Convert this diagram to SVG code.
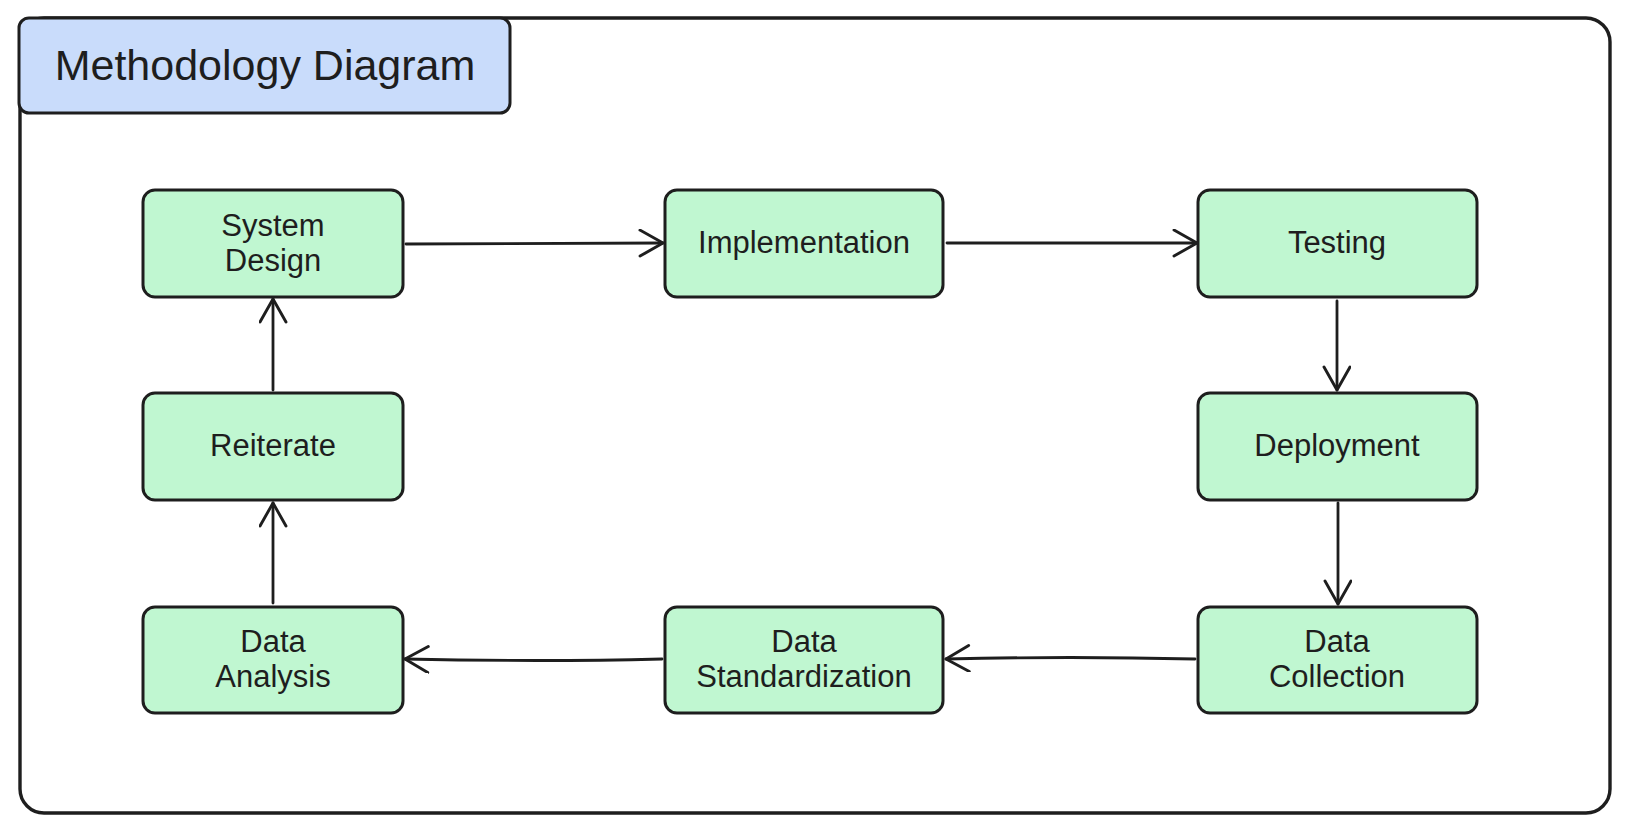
<svg xmlns="http://www.w3.org/2000/svg" width="1632" height="832" viewBox="0 0 1632 832">
<defs>
<style>
.box{fill:#c0f7d1;stroke:#1e1e1e;stroke-width:3;}
.lbl{font-family:"Liberation Sans",Arial,Helvetica,sans-serif;font-size:31px;fill:#1e1e1e;text-anchor:middle;}
.conn{fill:none;stroke:#1e1e1e;stroke-width:2.8;stroke-linecap:round;marker-end:url(#arr);}
</style>
<marker id="arr" markerUnits="userSpaceOnUse" markerWidth="32" markerHeight="32" viewBox="0 0 32 32" refX="25" refY="14" orient="auto">
<path d="M2,1 L25,14 L2,27" fill="none" stroke="#1e1e1e" stroke-width="2.9" stroke-linecap="round" stroke-linejoin="round"/>
</marker>
</defs>
<rect width="1632" height="832" fill="#ffffff"/>
<g id="frame">
<rect x="20" y="18" width="1590" height="795" rx="24" ry="24" fill="#ffffff" stroke="#1e1e1e" stroke-width="3.4"/>
</g>
<g id="title">
<rect x="19" y="18" width="491" height="95" rx="10" ry="10" fill="#c9dcfb" stroke="#1e1e1e" stroke-width="3"/>
<text x="265" y="80" font-family="'Liberation Sans',Arial,Helvetica,sans-serif" font-size="43" fill="#1e1e1e" text-anchor="middle">Methodology Diagram</text>
</g>
<g id="connectors">
<path class="conn" d="M406,244 L663,243"/>
<path class="conn" d="M947,243 L1197,243"/>
<path class="conn" d="M1337,301 L1337,390"/>
<path class="conn" d="M1338,503 L1338,604"/>
<path class="conn" d="M1195,659 Q1070,656 946,659"/>
<path class="conn" d="M662,659 Q540,662 405,659"/>
<path class="conn" d="M273,603 L273,503"/>
<path class="conn" d="M273,390 L273,299"/>
</g>
<g id="system-design">
<rect class="box" x="143" y="190" width="260" height="107" rx="12" ry="12"/>
<text class="lbl" x="273" y="236">System</text>
<text class="lbl" x="273" y="271">Design</text>
</g>
<g id="implementation">
<rect class="box" x="665" y="190" width="278" height="107" rx="12" ry="12"/>
<text class="lbl" x="804" y="253">Implementation</text>
</g>
<g id="testing">
<rect class="box" x="1198" y="190" width="279" height="107" rx="12" ry="12"/>
<text class="lbl" x="1337" y="253">Testing</text>
</g>
<g id="deployment">
<rect class="box" x="1198" y="393" width="279" height="107" rx="12" ry="12"/>
<text class="lbl" x="1337" y="456">Deployment</text>
</g>
<g id="data-collection">
<rect class="box" x="1198" y="607" width="279" height="106" rx="12" ry="12"/>
<text class="lbl" x="1337" y="652">Data</text>
<text class="lbl" x="1337" y="687">Collection</text>
</g>
<g id="data-standardization">
<rect class="box" x="665" y="607" width="278" height="106" rx="12" ry="12"/>
<text class="lbl" x="804" y="652">Data</text>
<text class="lbl" x="804" y="687">Standardization</text>
</g>
<g id="data-analysis">
<rect class="box" x="143" y="607" width="260" height="106" rx="12" ry="12"/>
<text class="lbl" x="273" y="652">Data</text>
<text class="lbl" x="273" y="687">Analysis</text>
</g>
<g id="reiterate">
<rect class="box" x="143" y="393" width="260" height="107" rx="12" ry="12"/>
<text class="lbl" x="273" y="456">Reiterate</text>
</g>
</svg>
